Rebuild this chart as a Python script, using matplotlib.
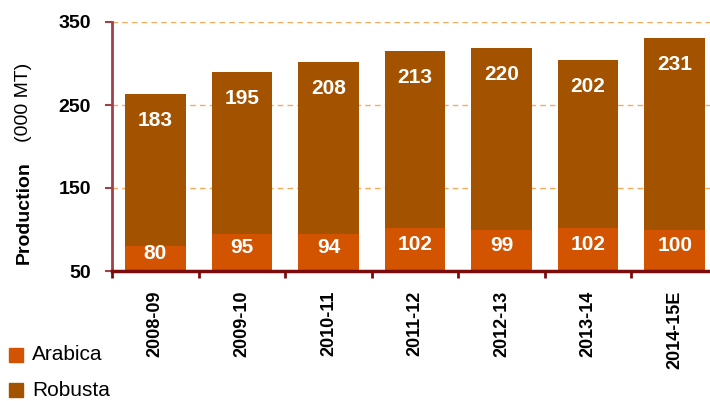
import matplotlib
matplotlib.use("Agg")
from matplotlib import pyplot as plt
import numpy as np

# data
seasons = ["2008-09", "2009-10", "2010-11", "2011-12", "2012-13", "2013-14", "2014-15E"]
arabica = [80, 95, 94, 102, 99, 102, 100]
robusta = [183, 195, 208, 213, 220, 202, 231]
yticks = [50, 150, 250, 350]

arabica_color = "#D35400"
robusta_color = "#A35200"

plt.rcParams["font.family"] = ["Liberation Sans", "DejaVu Sans"]

fig = plt.figure(figsize=(7.1, 4.01), dpi=100)
ax = fig.add_axes([112 / 710, 130 / 401, 606 / 710, 249 / 401])

x = np.arange(len(seasons))
ar = np.array(arabica)
ro = np.array(robusta)
ax.bar(x, ar, width=0.70, color=arabica_color, zorder=2)
ax.bar(x, ro, bottom=ar, width=0.70, color=robusta_color, zorder=2)

# value labels
for xi, a, r in zip(x, ar, ro):
    ax.annotate(str(r), (xi, a + r), xytext=(0, -19), textcoords="offset points",
                ha="center", va="center", color="white", fontsize=15, fontweight="bold")
    ax.text(xi, (50 + a) / 2 + 6, str(a), ha="center", va="center",
            color="white", fontsize=15, fontweight="bold")

ax.set_ylim(50, 350)
ax.set_xlim(-0.5, len(seasons) - 0.5)
ax.set_yticks(yticks)
ax.set_yticklabels([str(v) for v in yticks], fontsize=14, fontweight="bold")
for v in yticks[1:]:
    ax.axhline(v, color="#F7A95C", lw=1, ls=(0, (4, 3)), zorder=1)

# category ticks sit between the bars, labels at bar centres
ax.set_xticks(x - 0.5)
ax.set_xticklabels([])
ax.set_xticks(x, minor=True)
ax.set_xticklabels(seasons, minor=True, rotation=90, fontsize=13, fontweight="bold", va="top")
ax.tick_params(axis="x", which="minor", length=0, pad=14)
ax.tick_params(axis="x", which="major", length=5, width=2, color="#7B0C0C", direction="out")
ax.tick_params(axis="y", length=5, width=1.5, color="#A0404A", direction="out", pad=10)

for side in ["top", "right"]:
    ax.spines[side].set_visible(False)
ax.spines["left"].set_color("#A0404A")
ax.spines["left"].set_linewidth(2)
ax.spines["bottom"].set_color("#7B0C0C")
ax.spines["bottom"].set_linewidth(2.5)

# y axis title: bold part + normal part
fig.text(24 / 710, 1 - 213 / 401, "Production", rotation=90, ha="center", va="center",
         fontsize=14, fontweight="bold")
fig.text(24 / 710, 1 - 102 / 401, "(000 MT)", rotation=90, ha="center", va="center",
         fontsize=14)

# legend
for label, col, yy in [("Arabica", arabica_color, 355), ("Robusta", robusta_color, 390)]:
    fig.patches.append(plt.Rectangle((9 / 710, 1 - (yy + 7) / 401), 14 / 710, 14 / 401,
                                     transform=fig.transFigure, color=col))
    fig.text(32 / 710, 1 - yy / 401, label, ha="left", va="center", fontsize=15)

plt.savefig("out.png", dpi=100)
